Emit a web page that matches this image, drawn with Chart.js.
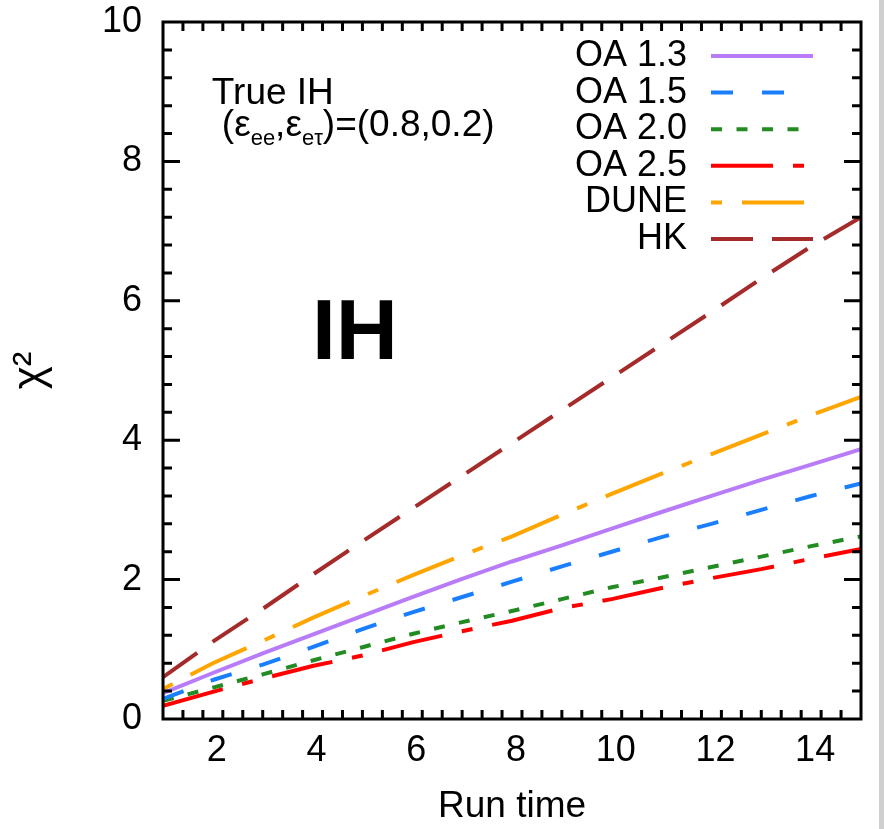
<!DOCTYPE html>
<html>
<head>
<meta charset="utf-8">
<script src="https://cdn.jsdelivr.net/npm/chart.js@4.4.1/dist/chart.umd.min.js"></script>
<style>
  html, body { margin: 0; padding: 0; background: #fff; overflow: hidden; }
  #wrap { position: relative; width: 884px; height: 829px; }
  #edge { position: absolute; right: 0; top: 0; width: 5px; height: 829px; background: #cfcfcf; }
</style>
</head>
<body>
<div id="wrap">
  <canvas id="c" width="884" height="829" style="width:884px;height:829px"></canvas>
  <div id="edge"></div>
</div>
<script>
// Run time (x) and chi-square sensitivity for each configuration
const runTime = [1, 2, 3, 4, 5, 6, 7, 8, 9, 10, 11, 12, 13, 14, 15];
const oa13 = [0.37, 0.66, 0.94, 1.21, 1.48, 1.75, 2.01, 2.26, 2.49, 2.73, 2.97, 3.20, 3.43, 3.65, 3.87];
const oa15 = [0.29, 0.56, 0.78, 1.03, 1.29, 1.53, 1.75, 1.97, 2.19, 2.40, 2.61, 2.80, 3.00, 3.20, 3.38];
const oa20 = [0.26, 0.45, 0.64, 0.84, 1.03, 1.22, 1.39, 1.55, 1.72, 1.89, 2.03, 2.18, 2.33, 2.48, 2.62];
const oa25 = [0.19, 0.39, 0.58, 0.76, 0.91, 1.10, 1.26, 1.41, 1.59, 1.72, 1.88, 2.02, 2.15, 2.30, 2.44];
const dune = [0.43, 0.80, 1.12, 1.45, 1.76, 2.06, 2.35, 2.62, 2.93, 3.23, 3.52, 3.80, 4.08, 4.36, 4.62];
const hk   = [0.60, 1.11, 1.58, 2.07, 2.55, 3.02, 3.49, 3.96, 4.43, 4.90, 5.37, 5.84, 6.32, 6.78, 7.20];

const seriesNames = ['OA 1.3', 'OA 1.5', 'OA 2.0', 'OA 2.5', 'DUNE', 'HK'];
const seriesValues = [oa13, oa15, oa20, oa25, dune, hk];
const seriesColors = ['#b87cf8', '#1a7fff', '#228b22', '#ff0000', '#ffa500', '#a52a2a'];
const seriesDashes = [[], [22, 29], [11, 14.5], [62, 20, 11, 20], [11, 20, 62, 20], [42, 19]];

const xTickValues = [2, 4, 6, 8, 10, 12, 14];
const yTickValues = [0, 2, 4, 6, 8, 10];

const FONT = "'Liberation Sans', Arial, sans-serif";

const datasets = seriesNames.map((name, i) => ({
  label: name,
  data: runTime.map((t, k) => ({ x: t, y: seriesValues[i][k] })),
  borderColor: seriesColors[i],
  backgroundColor: seriesColors[i],
  borderWidth: 4,
  borderDash: seriesDashes[i],
  pointRadius: 0,
  fill: false,
  tension: 0
}));

// Inward tick marks on all four sides plus the plot frame
const framePlugin = {
  id: 'frame',
  afterDatasetsDraw(chart) {
    const { ctx, chartArea: a, scales: { x, y } } = chart;
    const major = 17, minor = 9;
    ctx.save();
    ctx.strokeStyle = '#000';
    ctx.lineWidth = 3;
    ctx.beginPath();
    for (let k = 1; k < 35; k++) {
      const v = 1 + 0.4 * k;
      const isMajor = Math.abs(v / 2 - Math.round(v / 2)) < 1e-6;
      const len = isMajor ? major : minor;
      const px = x.getPixelForValue(v);
      ctx.moveTo(px, a.bottom); ctx.lineTo(px, a.bottom - len);
      ctx.moveTo(px, a.top); ctx.lineTo(px, a.top + len);
    }
    for (let k = 1; k < 25; k++) {
      const v = 0.4 * k;
      const isMajor = Math.abs(v / 2 - Math.round(v / 2)) < 1e-6;
      const len = isMajor ? major : minor;
      const py = y.getPixelForValue(v);
      ctx.moveTo(a.left, py); ctx.lineTo(a.left + len, py);
      ctx.moveTo(a.right, py); ctx.lineTo(a.right - len, py);
    }
    ctx.stroke();
    ctx.strokeRect(a.left, a.top, a.right - a.left, a.bottom - a.top);
    ctx.restore();
  }
};

// Key in the upper right: right-aligned names with line samples after them
const keyPlugin = {
  id: 'key',
  afterDraw(chart) {
    const { ctx, chartArea: a } = chart;
    const textRight = a.right - 174;
    const lineStart = a.right - 150, lineEnd = a.right - 48;
    const rowTop = a.top + 34, rowStep = 36.6;
    ctx.save();
    ctx.font = '36px ' + FONT;
    ctx.textAlign = 'right';
    ctx.textBaseline = 'middle';
    chart.data.datasets.forEach((ds, i) => {
      const yy = rowTop + i * rowStep;
      ctx.fillStyle = '#000';
      ctx.fillText(ds.label, textRight, yy);
      ctx.strokeStyle = ds.borderColor;
      ctx.lineWidth = ds.borderWidth;
      ctx.setLineDash(ds.borderDash);
      ctx.beginPath();
      ctx.moveTo(lineStart, yy);
      ctx.lineTo(lineEnd, yy);
      ctx.stroke();
    });
    ctx.restore();
  }
};

// Text notes inside the plot
const noteTrue = { x: 1.98, y: 8.82 };
const noteEps = { x: 2.18, y: 8.37 };
const noteBig = { x: 4.85, y: 5.51 };
const notesPlugin = {
  id: 'notes',
  afterDraw(chart) {
    const { ctx, scales: { x, y } } = chart;
    ctx.save();
    ctx.fillStyle = '#000';
    ctx.textAlign = 'left';
    ctx.textBaseline = 'alphabetic';
    ctx.font = '37px ' + FONT;
    ctx.fillText('True IH', x.getPixelForValue(noteTrue.x), y.getPixelForValue(noteTrue.y));

    const main = '37px ' + FONT, sub = '22px ' + FONT;
    const runs = [
      { t: '(', f: main, dy: 0 }, { t: 'ε', f: main, dy: 0 }, { t: 'ee', f: sub, dy: 9 },
      { t: ',', f: main, dy: 0 }, { t: 'ε', f: main, dy: 0 }, { t: 'eτ', f: sub, dy: 9 },
      { t: ')=(0.8,0.2)', f: main, dy: 0 }
    ];
    let px = x.getPixelForValue(noteEps.x);
    const py = y.getPixelForValue(noteEps.y);
    runs.forEach(r => {
      ctx.font = r.f;
      ctx.fillText(r.t, px, py + r.dy);
      px += ctx.measureText(r.t).width;
    });

    ctx.font = 'bold 86px ' + FONT;
    ctx.textAlign = 'center';
    ctx.textBaseline = 'middle';
    ctx.fillText('IH', x.getPixelForValue(noteBig.x), y.getPixelForValue(noteBig.y));
    ctx.restore();
  }
};

new Chart(document.getElementById('c'), {
  type: 'line',
  data: { datasets },
  plugins: [framePlugin, keyPlugin, notesPlugin],
  options: {
    responsive: false,
    devicePixelRatio: 1,
    animation: false,
    layout: { padding: { left: 0, top: 22, right: 23, bottom: 0 } },
    plugins: { legend: { display: false }, tooltip: { enabled: false } },
    scales: {
      x: {
        type: 'linear',
        min: 1,
        max: 15,
        afterBuildTicks(s) { s.ticks = xTickValues.map(v => ({ value: v })); },
        afterFit(s) { s.height = 110; s.paddingLeft = 0; s.paddingRight = 0; },
        grid: { display: false, drawTicks: false },
        border: { display: false },
        ticks: { font: { family: FONT, size: 36 }, color: '#000', padding: 10, labelOffset: 4, maxRotation: 0 },
        title: { display: true, text: 'Run time', color: '#000', font: { family: FONT, size: 37, lineHeight: 1 }, padding: { top: 0, bottom: 4 } }
      },
      y: {
        min: 0,
        max: 10,
        afterBuildTicks(s) { s.ticks = yTickValues.map(v => ({ value: v })); },
        afterFit(s) { s.width = 163; s.paddingTop = 0; s.paddingBottom = 0; },
        grid: { display: false, drawTicks: false },
        border: { display: false },
        ticks: { font: { family: FONT, size: 36 }, color: '#000', padding: 21 },
        title: { display: true, text: 'χ²', color: '#000', font: { family: FONT, size: 44, lineHeight: 1 }, padding: { top: 9, bottom: 0 } }
      }
    }
  }
});
</script>
</body>
</html>
